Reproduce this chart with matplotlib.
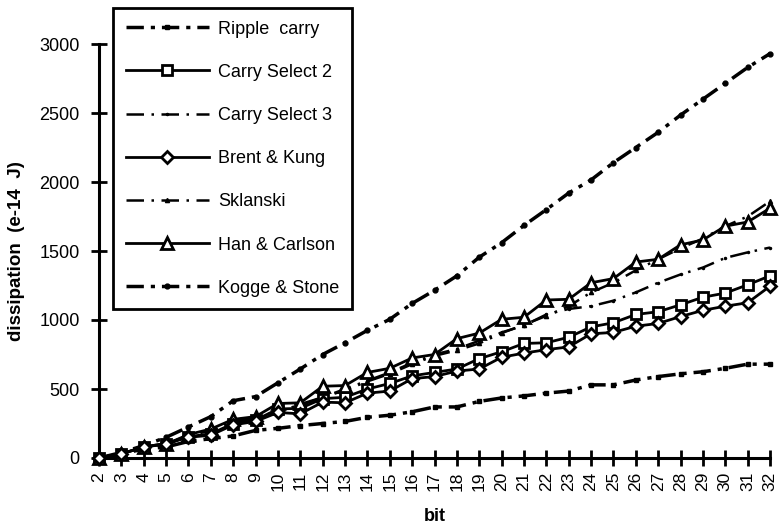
import numpy as np
import matplotlib.pyplot as plt

plt.rcParams['font.family'] = ['Liberation Sans', 'DejaVu Sans']

# bit width of the adder
bits = list(range(2, 33))

# dissipation values (e-14 J)
ripple = [0, 30, 65, 80, 120, 140, 160, 200, 215, 235, 250, 265, 295, 310, 335,
          370, 370, 410, 435, 450, 470, 485, 530, 530, 565, 590, 610, 625, 650, 680, 680]
carry_sel2 = [0, 30, 80, 105, 155, 175, 250, 275, 355, 360, 430, 440, 500, 540, 595,
              620, 645, 720, 770, 830, 835, 875, 950, 980, 1040, 1060, 1110, 1165, 1195, 1255, 1320]
carry_sel3 = [0, 35, 80, 100, 165, 205, 265, 290, 330, 390, 440, 500, 560, 620, 690,
              750, 790, 850, 910, 960, 1040, 1080, 1100, 1140, 1200, 1270, 1330, 1380, 1450, 1490, 1525]
brent_kung = [0, 30, 80, 105, 150, 165, 240, 265, 330, 320, 405, 400, 470, 485, 575,
              590, 630, 645, 730, 760, 785, 805, 900, 910, 955, 975, 1025, 1070, 1100, 1125, 1245]
sklanski = [0, 30, 75, 95, 160, 200, 260, 290, 340, 380, 440, 490, 555, 610, 680,
            740, 780, 830, 905, 965, 1030, 1100, 1200, 1270, 1360, 1440, 1520, 1590, 1680, 1750, 1860]
han_carlson = [0, 30, 80, 100, 170, 210, 280, 300, 395, 400, 520, 525, 620, 650, 725,
               750, 865, 905, 1005, 1020, 1145, 1150, 1270, 1300, 1420, 1440, 1545, 1580, 1680, 1710, 1810]
kogge_stone = [0, 40, 90, 150, 225, 300, 415, 445, 545, 645, 750, 835, 925, 1005, 1120,
               1215, 1320, 1455, 1560, 1685, 1800, 1920, 2015, 2140, 2250, 2360, 2485, 2600, 2715, 2830, 2930]

fig = plt.figure(figsize=(7.79, 5.28), dpi=100)
ax = fig.add_axes([99/779, 1 - 458/528, (770 - 99)/779, (458 - 44)/528])

dashdot = (0, (5, 2, 1.2, 2))
thin_dashdot = (0, (7, 3, 1, 3))

ax.plot(bits, ripple, color='black', lw=2.5, ls=dashdot, marker='s', ms=3.5,
        mfc='black', mec='black', label='Ripple  carry', clip_on=False, zorder=3)
ax.plot(bits, carry_sel2, color='black', lw=2, ls='-', marker='s', ms=7,
        mfc='white', mec='black', mew=2, label='Carry Select 2', clip_on=False, zorder=4)
ax.plot(bits, carry_sel3, color='black', lw=1.8, ls=thin_dashdot, marker='.', ms=3,
        mfc='black', label='Carry Select 3', clip_on=False, zorder=3)
ax.plot(bits, brent_kung, color='black', lw=2, ls='-', marker='D', ms=6.5,
        mfc='white', mec='black', mew=2, label='Brent & Kung', clip_on=False, zorder=5)
ax.plot(bits, sklanski, color='black', lw=1.8, ls=thin_dashdot, marker='^', ms=3,
        mfc='black', label='Sklanski', clip_on=False, zorder=3)
ax.plot(bits, han_carlson, color='black', lw=2, ls='-', marker='^', ms=8.5,
        mfc='white', mec='black', mew=2, label='Han & Carlson', clip_on=False, zorder=4)
ax.plot(bits, kogge_stone, color='black', lw=2.5, ls=dashdot, marker='o', ms=3.5,
        mfc='black', label='Kogge & Stone', clip_on=False, zorder=3)

ax.set_xlim(2, 32)
ax.set_ylim(0, 3000)
ax.set_xticks(bits)
ax.set_xticklabels([str(b) for b in bits], rotation=90, fontsize=12.5)
ax.set_yticks(range(0, 3001, 500))
ax.tick_params(axis='y', labelsize=13, direction='inout', length=12, width=2, pad=8)
ax.tick_params(axis='x', direction='inout', length=12, width=2, pad=4)

for side in ['top', 'right']:
    ax.spines[side].set_visible(False)
for side in ['left', 'bottom']:
    ax.spines[side].set_linewidth(2.2)

ax.set_xlabel('bit', fontsize=13, fontweight='bold', labelpad=12)
ax.set_ylabel('dissipation  (e-14  J)', fontsize=13.5, fontweight='bold', labelpad=10)

leg = ax.legend(loc='upper left', bbox_to_anchor=(113/779, 1 - 8/528),
                bbox_transform=fig.transFigure, borderaxespad=0, fontsize=13,
                labelspacing=1.45, handlelength=4.6, handletextpad=0.5,
                borderpad=0.7, fancybox=False, framealpha=1, edgecolor='black')
leg.get_frame().set_linewidth(2)

fig.savefig('out.png', dpi=100)
